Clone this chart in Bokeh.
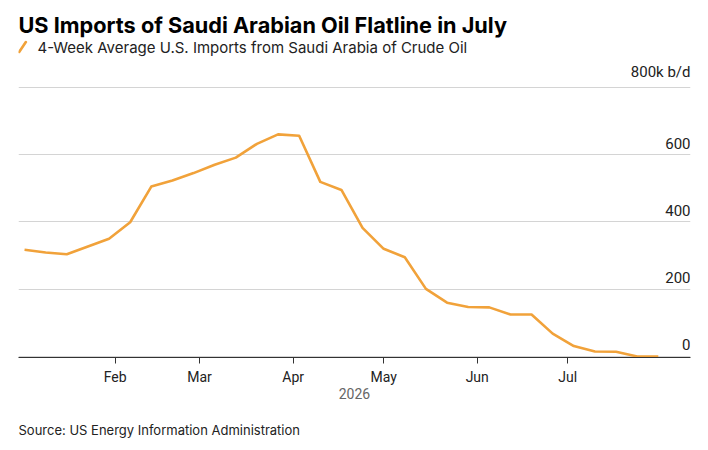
import pandas as pd
from bokeh.plotting import figure
from bokeh.models import FixedTicker, DatetimeTickFormatter, Grid, Range1d, Title, ColumnDataSource
from bokeh.core.properties import value
from bokeh.embed import file_html
from bokeh.resources import INLINE

# ---- data ----
week_dates = pd.date_range("2026-01-02", periods=31, freq="7D")
imports_kbd = [317, 309, 304, 327, 350, 399, 505, 523, 545, 570, 591, 632, 660, 656,
               519, 495, 382, 320, 295, 201, 160, 147, 146, 125, 125, 68, 31, 15, 14, 0, 0]
month_ticks = ["2026-02-01", "2026-03-01", "2026-04-01", "2026-05-01", "2026-06-01", "2026-07-01"]
y_ticks = [0, 200, 400, 600, 800]
y_tick_labels = ["0", "200", "400", "600", "800k b/d"]

title_text = "US Imports of Saudi Arabian Oil Flatline in July"
legend_text = "4-Week Average U.S. Imports from Saudi Arabia of Crude Oil"
source_text = "Source: US Energy Information Administration"

FONT = "Inter"
AXFONT = "Roboto"
ORANGE = "#f1a23a"

def ms(d):
    return pd.Timestamp(d).value / 1e6

TOP = 0            # frame top (px from page top)
BOTTOM = 357       # frame bottom (px from page top)
H = 450
x_start = ms("2025-12-31")
x_end = ms("2026-08-10 16:00")
frame_w = 672.0
px_per_unit = 0.3365
y_start = -3
y_end = y_start + (BOTTOM - TOP) / px_per_unit
ms_per_px = (x_end - x_start) / frame_w

p = figure(width=708, height=H, x_axis_type="datetime", y_axis_location=None,
           x_range=Range1d(x_start, x_end), y_range=Range1d(y_start, y_end),
           output_backend="svg", toolbar_location=None,
           min_border_left=18, min_border_right=18, min_border_top=TOP,
           min_border_bottom=H - BOTTOM)
p.outline_line_color = None
p.background_fill_color = "white"
p.border_fill_color = "white"
p.xgrid.visible = False
p.ygrid.visible = False

p.add_layout(Grid(dimension=1, ticker=FixedTicker(ticks=y_ticks),
                  grid_line_color="#d4d4d4", grid_line_width=1))

# line
src = ColumnDataSource(dict(x=week_dates, y=imports_kbd))
p.line("x", "y", source=src, line_color=ORANGE, line_width=2.6, line_join="round")

# x axis
ax = p.xaxis[0]
ax.ticker = FixedTicker(ticks=[ms(d) for d in month_ticks])
ax.formatter = DatetimeTickFormatter(months="%b", days="%b", hours="%b", years="%b")
ax.minor_tick_line_color = None
ax.major_tick_in = 0
ax.major_tick_out = 6
ax.major_tick_line_color = "#333333"
ax.axis_line_color = "#333333"
ax.axis_line_width = 1.2
ax.major_label_text_font = AXFONT
ax.major_label_text_font_size = "14px"
ax.major_label_text_color = "#222222"
ax.major_label_standoff = 5
ax.axis_label = "2026"
ax.axis_label_text_font = AXFONT
ax.axis_label_text_font_size = "14px"
ax.axis_label_text_font_style = "normal"
ax.axis_label_text_color = "#666666"
ax.axis_label_standoff = 0

# y labels (right side, above grid lines)
p.text(x=[x_end] * len(y_ticks), y=y_ticks, text=y_tick_labels,
       text_font=value(AXFONT), text_font_size="15px", text_color="#222222",
       text_align="right", text_baseline="bottom", y_offset=-6)

# title
p.text(x=[x_start], y=[y_end], text=[title_text], text_font=value(FONT),
       text_font_size="21.7px", text_font_style="bold", text_color="#000000",
       text_align="left", text_baseline="alphabetic", y_offset=24 - TOP)

# legend
leg_y = y_end - (46.5 - TOP) / px_per_unit
p.scatter(x=[x_start + 4 * ms_per_px], y=[leg_y], marker="dash", size=12, angle=0.98,
          line_color=ORANGE, line_width=2.6, line_cap="round")
p.text(x=[x_start], y=[leg_y], text=[legend_text], text_font=value(FONT),
       text_font_size="15px", text_color="#222222",
       text_align="left", text_baseline="middle", x_offset=19)

# spacer + source below the axis
p.add_layout(Title(text=" ", text_font=FONT, text_font_size="13px", standoff=0), "below")
p.add_layout(Title(text=source_text, align="left", text_font=FONT, text_font_size="13px",
                   text_font_style="normal", text_color="#222222", standoff=4,
                   vertical_align="top"), "below")

open("out.html", "w").write(file_html(p, INLINE))
